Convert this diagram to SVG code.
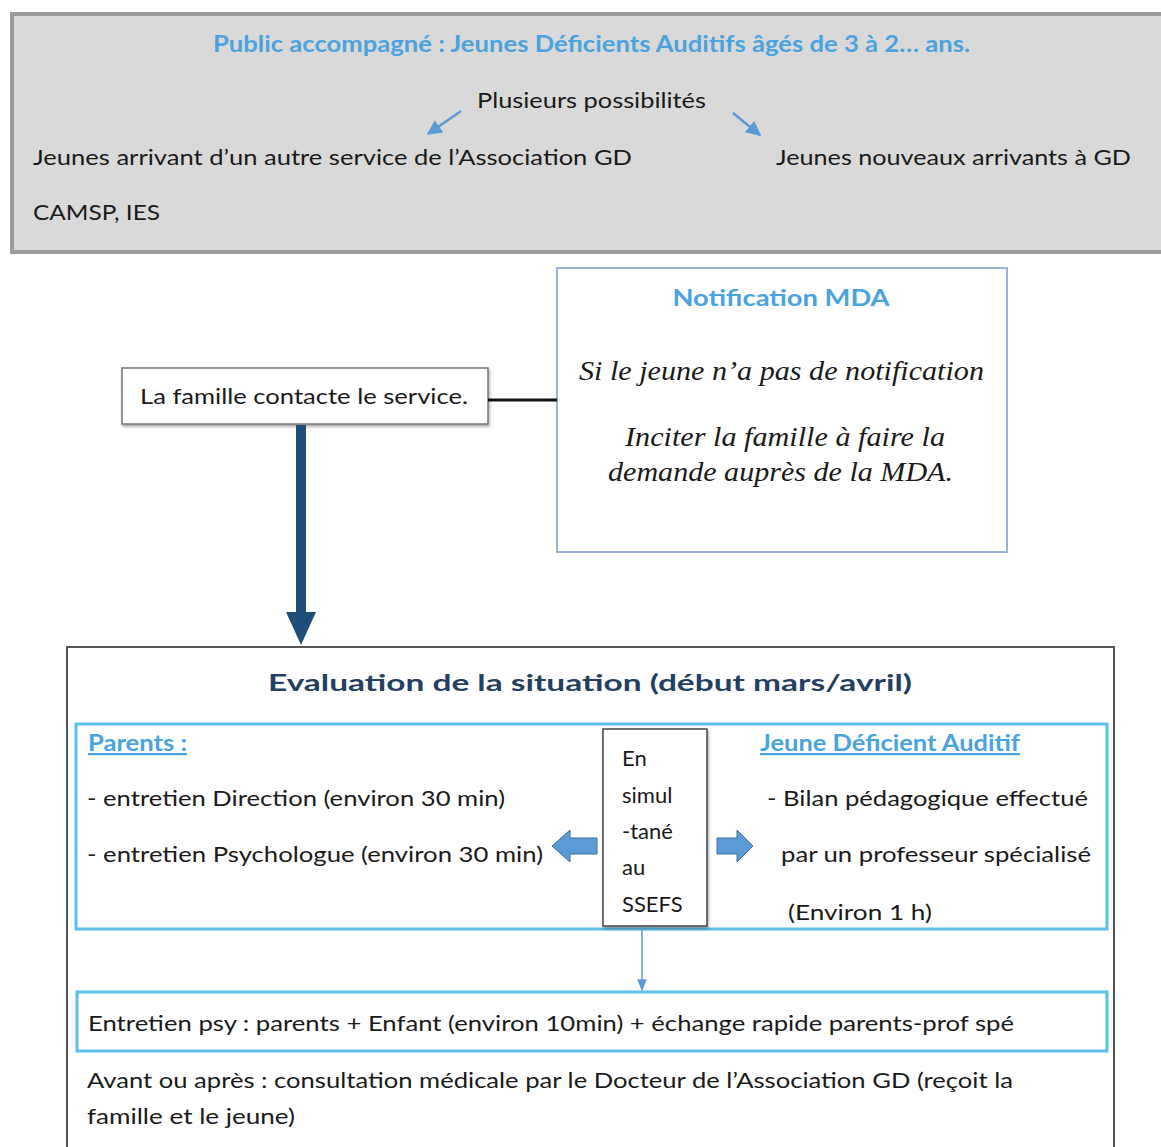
<svg xmlns="http://www.w3.org/2000/svg" width="1161" height="1147" viewBox="0 0 1161 1147">
<defs>
<style>
.t{font-family:Lato,"Open Sans","Liberation Sans",sans-serif;font-size:22px;fill:#1a1a1a}
.b{font-weight:bold}
.blue{fill:#4aa3df}
.s{font-family:"Liberation Serif","DejaVu Serif",serif;font-style:italic;font-size:27px;fill:#1a1a1a}
.u{text-decoration:underline}
</style>
<marker id="ah" viewBox="0 0 10 10" refX="9" refY="5" markerWidth="6" markerHeight="6" orient="auto"><path d="M0,0 L10,5 L0,10 z" fill="#5b9bd5"/></marker>
<marker id="ah2" viewBox="0 0 10 10" refX="9" refY="5" markerWidth="8" markerHeight="8" orient="auto"><path d="M0,1 L10,5 L0,9 z" fill="#5b9bd5"/></marker>
<filter id="sh" x="-5%" y="-5%" width="110%" height="120%"><feDropShadow dx="1" dy="2" stdDeviation="1.5" flood-color="#000" flood-opacity="0.35"/></filter>
</defs>
<rect width="1161" height="1147" fill="#fff"/>

<g id="public">
<rect x="12" y="14" width="1160" height="238" fill="#d9d9d9" stroke="#9a9a9a" stroke-width="4"/>
<text class="t b blue" x="213" y="52" textLength="757" lengthAdjust="spacingAndGlyphs">Public accompagné : Jeunes Déficients Auditifs âgés de 3 à 2… ans.</text>
<text class="t" x="477" y="108" textLength="229" lengthAdjust="spacingAndGlyphs">Plusieurs possibilités</text>
<text class="t" x="33" y="165" textLength="599" lengthAdjust="spacingAndGlyphs">Jeunes arrivant d’un autre service de l’Association GD</text>
<text class="t" x="776" y="165" textLength="355" lengthAdjust="spacingAndGlyphs">Jeunes nouveaux arrivants à GD</text>
<text class="t" x="33" y="220" textLength="127" lengthAdjust="spacingAndGlyphs">CAMSP, IES</text>
</g>

<g id="famille">
<rect x="122" y="368" width="366" height="56" fill="#fff" stroke="#777" stroke-width="1.5" filter="url(#sh)"/>
<text class="t" x="140" y="404" textLength="328" lengthAdjust="spacingAndGlyphs">La famille contacte le service.</text>
</g>

<g id="notification">
<rect x="557" y="268" width="450" height="284" fill="#fff" stroke="#95b3d7" stroke-width="2"/>
<text class="t b blue" x="781" y="306" text-anchor="middle" font-size="24" textLength="217" lengthAdjust="spacingAndGlyphs">Notification MDA</text>
<text class="s" x="579" y="380" textLength="405" lengthAdjust="spacingAndGlyphs">Si le jeune n’a pas de notification</text>
<text class="s" x="625" y="446" textLength="320" lengthAdjust="spacingAndGlyphs">Inciter la famille à faire la</text>
<text class="s" x="608" y="481" textLength="345" lengthAdjust="spacingAndGlyphs">demande auprès de la MDA.</text>
</g>

<g id="evaluation">
<rect x="67" y="647" width="1047" height="510" fill="#fff" stroke="#555" stroke-width="2"/>
<text class="t b" x="268" y="691" font-size="31" style="fill:#243f60" textLength="644" lengthAdjust="spacingAndGlyphs">Evaluation de la situation (début mars/avril)</text>
</g>

<g id="simultane">
<rect x="76" y="724" width="1031" height="205" fill="none" stroke="#5bc0eb" stroke-width="3"/>
<text class="t b blue u" x="88" y="751" textLength="99" lengthAdjust="spacingAndGlyphs">Parents :</text>
<text class="t" x="87" y="806" textLength="418" lengthAdjust="spacingAndGlyphs">- entretien Direction (environ 30 min)</text>
<text class="t" x="87" y="862" textLength="456" lengthAdjust="spacingAndGlyphs">- entretien Psychologue (environ 30 min)</text>
<text class="t b blue u" x="760" y="751" textLength="260" lengthAdjust="spacingAndGlyphs">Jeune Déficient Auditif</text>
<text class="t" x="767" y="806" textLength="321" lengthAdjust="spacingAndGlyphs">- Bilan pédagogique effectué</text>
<text class="t" x="781" y="862" textLength="310" lengthAdjust="spacingAndGlyphs">par un professeur spécialisé</text>
<text class="t" x="788" y="920" textLength="144" lengthAdjust="spacingAndGlyphs">(Environ 1 h)</text>
</g>

<g id="ssefs">
<rect x="603" y="729" width="104" height="197" fill="#fff" stroke="#444" stroke-width="1.5" filter="url(#sh)"/>
<text class="t" x="622" y="766">En</text>
<text class="t" x="622" y="803">simul</text>
<text class="t" x="622" y="839">-tané</text>
<text class="t" x="622" y="875">au</text>
<text class="t" x="622" y="912">SSEFS</text>
</g>

<g id="entretien">
<rect x="77" y="992" width="1030" height="59" fill="#fff" stroke="#5bc0eb" stroke-width="3"/>
<text class="t" x="88" y="1031" textLength="926" lengthAdjust="spacingAndGlyphs">Entretien psy : parents + Enfant (environ 10min) + échange rapide parents-prof spé</text>
</g>

<g id="consultation">
<text class="t" x="87" y="1088" textLength="926" lengthAdjust="spacingAndGlyphs">Avant ou après : consultation médicale par le Docteur de l’Association GD (reçoit la</text>
<text class="t" x="87" y="1124" textLength="208" lengthAdjust="spacingAndGlyphs">famille et le jeune)</text>
</g>

<g id="connectors">
<line x1="461" y1="111" x2="428" y2="134" stroke="#5b9bd5" stroke-width="2.5" marker-end="url(#ah)"/>
<line x1="733" y1="113" x2="760" y2="135" stroke="#5b9bd5" stroke-width="2.5" marker-end="url(#ah)"/>
<line x1="488" y1="400" x2="557" y2="400" stroke="#111" stroke-width="3"/>
<path d="M296,425 H306 V612 H316 L301,645 L286,612 H296 Z" fill="#1f4e79"/>
<path d="M597,838 V854 H570 V862 L552,846 L570,830 V838 Z" fill="#5b9bd5" stroke="#41719c" stroke-width="1"/>
<path d="M717,838 V854 H737 V862 L753,846 L737,830 V838 Z" fill="#5b9bd5" stroke="#41719c" stroke-width="1"/>
<line x1="642" y1="927" x2="642" y2="990" stroke="#5b9bd5" stroke-width="1.5" marker-end="url(#ah2)"/>
</g>
</svg>
